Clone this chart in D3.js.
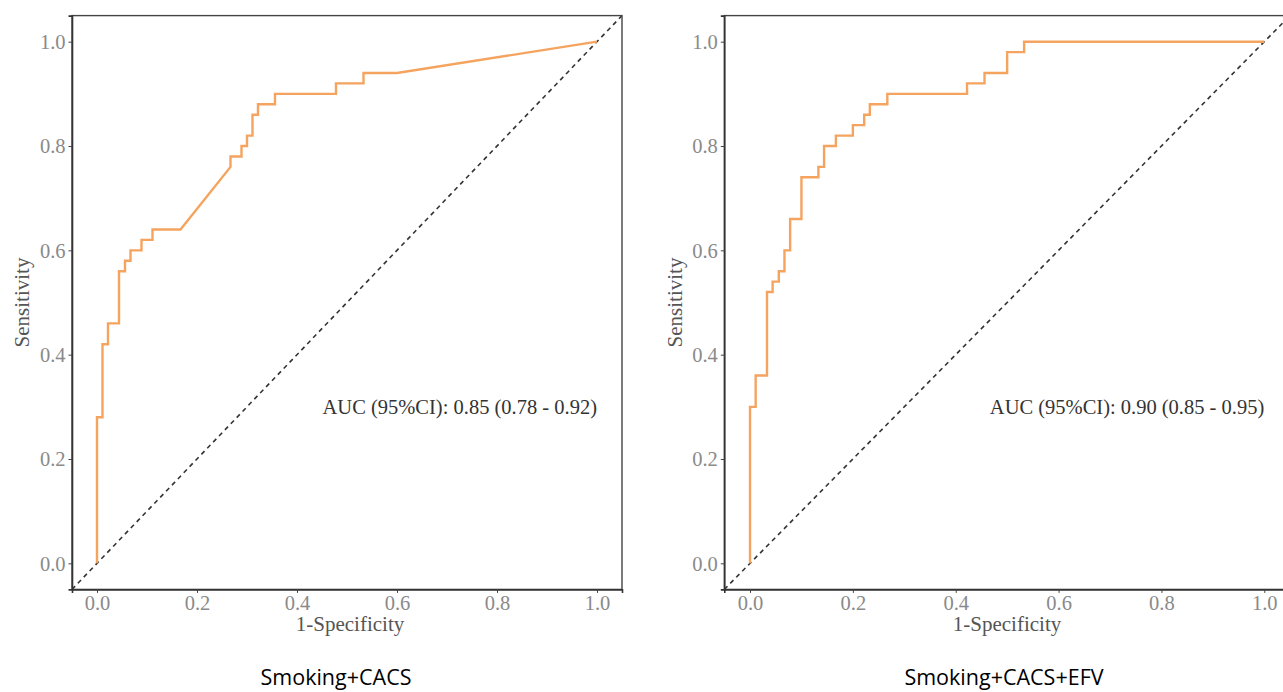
<!DOCTYPE html>
<html>
<head>
<meta charset="utf-8">
<script src="https://cdn.jsdelivr.net/npm/d3@7"></script>
<style>
  body { margin: 0; background: #fff; }
  svg { display: block; }
</style>
</head>
<body>
<script>
const WIDTH = 1283;
const HEIGHT = 692;

// ROC points (1-specificity, sensitivity)
const leftFpr = [0, 0, 0.011, 0.011, 0.022, 0.022, 0.044, 0.044, 0.056, 0.056, 0.067, 0.067,
    0.089, 0.089, 0.111, 0.111, 0.167, 0.267, 0.267, 0.289, 0.289, 0.300, 0.300, 0.311, 0.311,
    0.322, 0.322, 0.356, 0.356, 0.478, 0.478, 0.533, 0.533, 0.600, 1.0];
const leftTpr = [0, 0.28, 0.28, 0.42, 0.42, 0.46, 0.46, 0.56, 0.56, 0.58, 0.58, 0.60,
    0.60, 0.62, 0.62, 0.64, 0.64, 0.76, 0.78, 0.78, 0.80, 0.80, 0.82, 0.82, 0.86,
    0.86, 0.88, 0.88, 0.90, 0.90, 0.92, 0.92, 0.94, 0.94, 1.0];

const rightFpr = [0, 0, 0.011, 0.011, 0.033, 0.033, 0.044, 0.044, 0.056, 0.056, 0.067, 0.067,
    0.078, 0.078, 0.100, 0.100, 0.133, 0.133, 0.144, 0.144, 0.167, 0.167, 0.200, 0.200,
    0.222, 0.222, 0.233, 0.233, 0.267, 0.267, 0.422, 0.422, 0.456, 0.456, 0.500, 0.500,
    0.533, 0.533, 1.0];
const rightTpr = [0, 0.30, 0.30, 0.36, 0.36, 0.52, 0.52, 0.54, 0.54, 0.56, 0.56, 0.60,
    0.60, 0.66, 0.66, 0.74, 0.74, 0.76, 0.76, 0.80, 0.80, 0.82, 0.82, 0.84,
    0.84, 0.86, 0.86, 0.88, 0.88, 0.90, 0.90, 0.92, 0.92, 0.94, 0.94, 0.98,
    0.98, 1.0, 1.0];

const tickValues = [0, 0.2, 0.4, 0.6, 0.8, 1.0];
const titles = ["Smoking+CACS", "Smoking+CACS+EFV"];
const aucLabels = ["AUC (95%CI): 0.85 (0.78 - 0.92)", "AUC (95%CI): 0.90 (0.85 - 0.95)"];

const panels = [
    { fpr: leftFpr, tpr: leftTpr, title: titles[0], auc: aucLabels[0], left: 72, right: 622, yTitle: 22, titleX: 336, xTitle: 350 },
    { fpr: rightFpr, tpr: rightTpr, title: titles[1], auc: aucLabels[1], left: 724.3, right: 1290, yTitle: 675, titleX: 1004, xTitle: 1007 }
];

const panelTop = 15.6, panelBottom = 589.4;
const serif = "'Liberation Serif', 'DejaVu Serif', serif";

const svg = d3.select("body").append("svg")
    .attr("width", WIDTH)
    .attr("height", HEIGHT);

panels.forEach((p, i) => {
    const x = d3.scaleLinear().domain([-0.05, 1.05]).range([p.left, p.right]);
    const y = d3.scaleLinear().domain([-0.05, 1.05]).range([panelBottom, panelTop]);

    const g = svg.append("g");

    const clipId = "clip" + i;
    g.append("clipPath").attr("id", clipId)
        .append("rect")
        .attr("x", p.left).attr("y", panelTop)
        .attr("width", p.right - p.left).attr("height", panelBottom - panelTop);

    // diagonal reference line
    g.append("line")
        .attr("clip-path", "url(#" + clipId + ")")
        .attr("x1", x(-0.05)).attr("y1", y(-0.05))
        .attr("x2", x(1.05)).attr("y2", y(1.05))
        .attr("stroke", "#333")
        .attr("stroke-width", 1.6)
        .attr("stroke-dasharray", "4.5,4");

    const pts = p.fpr.map((d, k) => [d, p.tpr[k]]);
    g.append("path")
        .datum(pts)
        .attr("fill", "none")
        .attr("stroke", "#F5A460")
        .attr("stroke-width", 2.4)
        .attr("stroke-linejoin", "miter")
        .attr("d", d3.line().x(d => x(d[0])).y(d => y(d[1])));

    g.append("text")
        .attr("x", x(1.0))
        .attr("y", y(0.3))
        .attr("text-anchor", "end")
        .attr("dominant-baseline", "central")
        .attr("font-family", serif)
        .attr("font-size", 20.5)
        .attr("fill", "#333")
        .text(p.auc);

    // panel border
    g.append("rect")
        .attr("x", p.left).attr("y", panelTop)
        .attr("width", p.right - p.left).attr("height", panelBottom - panelTop)
        .attr("fill", "none")
        .attr("stroke", "#444")
        .attr("stroke-width", 1.4);

    const xAxis = g.append("g")
        .attr("transform", "translate(0," + panelBottom + ")")
        .call(d3.axisBottom(x).tickValues(tickValues).tickFormat(d3.format(".1f")).tickSize(3.5).tickPadding(3));
    const yAxis = g.append("g")
        .attr("transform", "translate(" + p.left + ",0)")
        .call(d3.axisLeft(y).tickValues(tickValues).tickFormat(d3.format(".1f")).tickSize(3.5).tickPadding(3));

    [xAxis, yAxis].forEach(a => {
        a.select(".domain").attr("stroke", "#333").attr("stroke-width", 1.6);
        a.selectAll(".tick line").attr("stroke", "#444");
        a.selectAll(".tick text")
            .attr("font-family", serif)
            .attr("font-size", 20.5)
            .attr("fill", "#8a8a8a");
    });
    yAxis.selectAll(".tick text").attr("dy", "0.34em");

    g.append("text")
        .attr("x", p.xTitle)
        .attr("y", 631)
        .attr("text-anchor", "middle")
        .attr("font-family", serif)
        .attr("font-size", 21)
        .attr("fill", "#555")
        .text("1-Specificity");

    g.append("text")
        .attr("transform", "translate(" + p.yTitle + "," + y(0.5) + ") rotate(-90)")
        .attr("text-anchor", "middle")
        .attr("dominant-baseline", "central")
        .attr("font-family", serif)
        .attr("font-size", 21)
        .attr("fill", "#555")
        .text("Sensitivity");

    svg.append("text")
        .attr("x", p.titleX)
        .attr("y", 685)
        .attr("text-anchor", "middle")
        .attr("font-family", "'Open Sans', 'Noto Sans', sans-serif")
        .attr("font-size", 21.5)
        .attr("fill", "#000")
        .text(p.title);
});
</script>
</body>
</html>
